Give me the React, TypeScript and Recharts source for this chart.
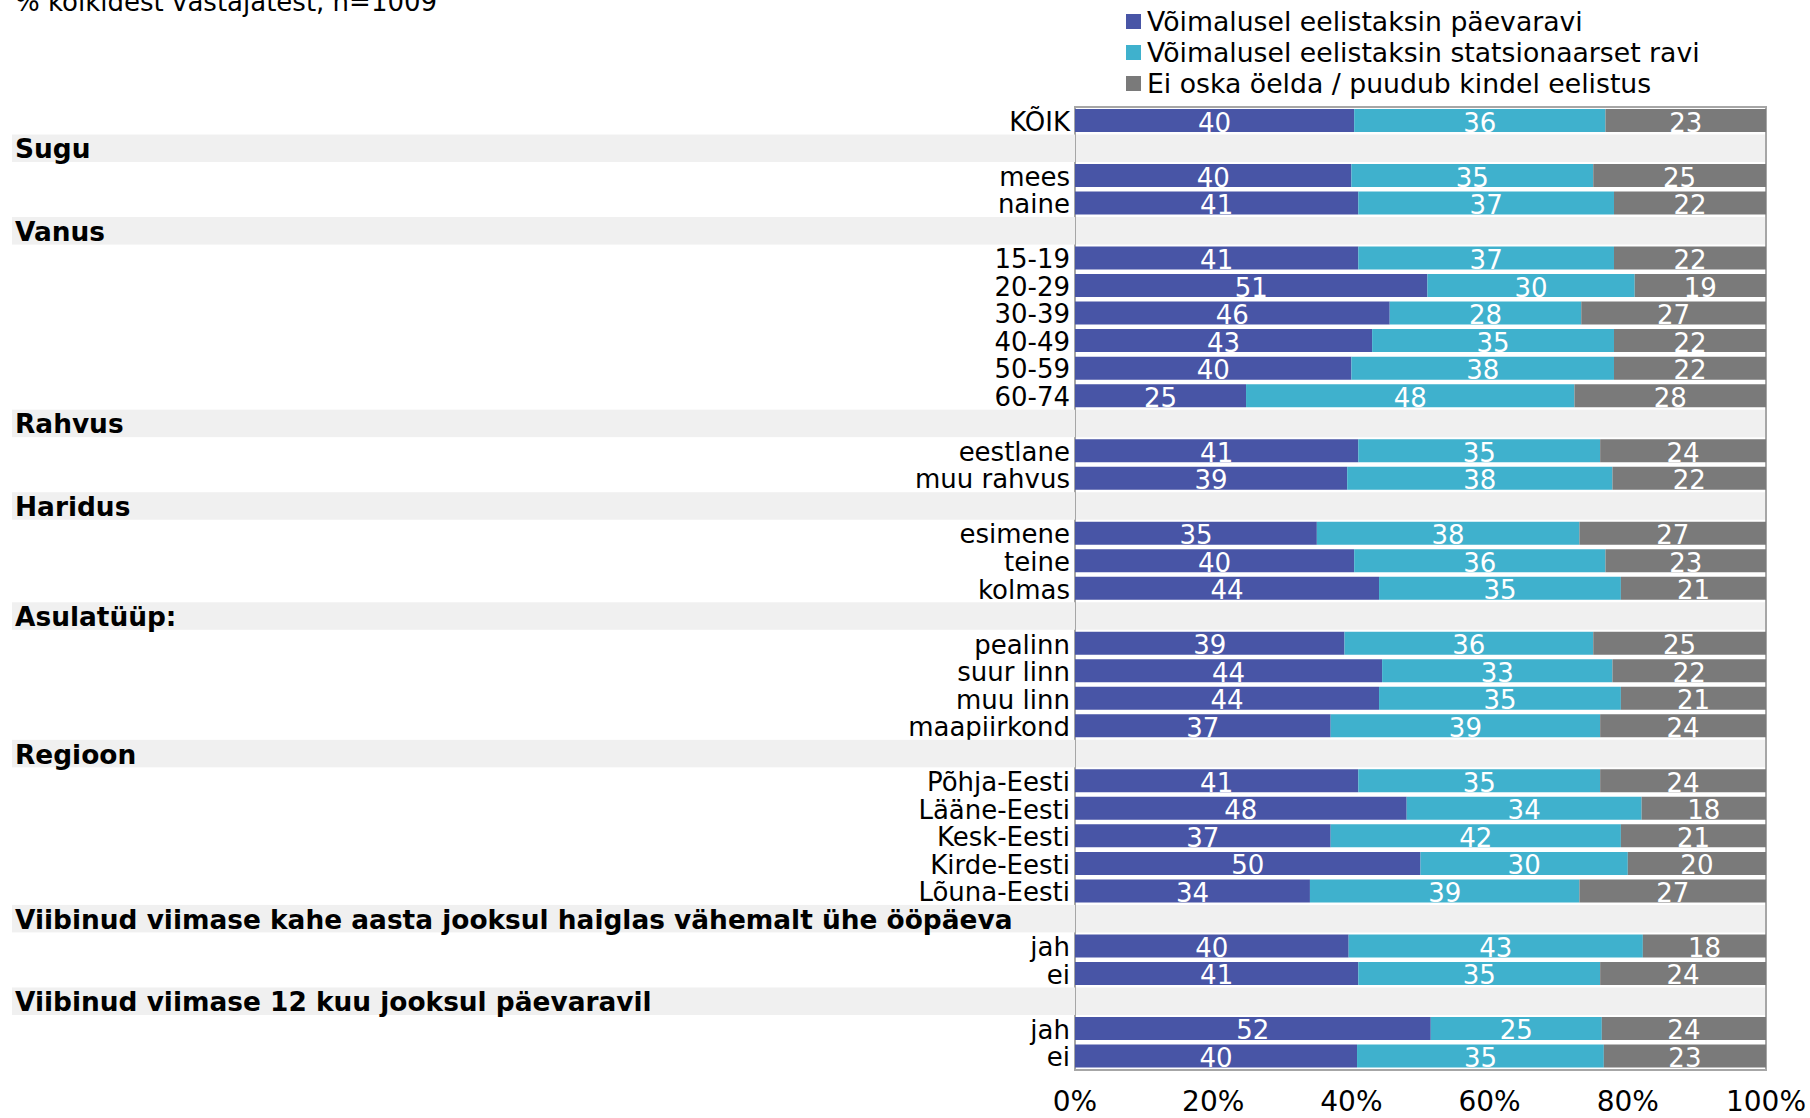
import React from "react";
import {
  BarChart,
  Bar,
  XAxis,
  YAxis,
  LabelList,
  ReferenceArea,
} from "recharts";

const FONT = "'DejaVu Sans', Verdana, sans-serif";

const rowLabels = [
  "KÕIK",
  "Sugu",
  "mees",
  "naine",
  "Vanus",
  "15-19",
  "20-29",
  "30-39",
  "40-49",
  "50-59",
  "60-74",
  "Rahvus",
  "eestlane",
  "muu rahvus",
  "Haridus",
  "esimene",
  "teine",
  "kolmas",
  "Asulatüüp:",
  "pealinn",
  "suur linn",
  "muu linn",
  "maapiirkond",
  "Regioon",
  "Põhja-Eesti",
  "Lääne-Eesti",
  "Kesk-Eesti",
  "Kirde-Eesti",
  "Lõuna-Eesti",
  "Viibinud viimase kahe aasta jooksul haiglas vähemalt ühe ööpäeva",
  "jah",
  "ei",
  "Viibinud viimase 12 kuu jooksul päevaravil",
  "jah",
  "ei",
];

const groupHeaders = [
  "Sugu",
  "Vanus",
  "Rahvus",
  "Haridus",
  "Asulatüüp:",
  "Regioon",
  "Viibinud viimase kahe aasta jooksul haiglas vähemalt ühe ööpäeva",
  "Viibinud viimase 12 kuu jooksul päevaravil",
];

// null = group header row (no bar)
const paevaravi = [
  40, null, 40, 41, null, 41, 51, 46, 43, 40, 25, null, 41, 39, null, 35, 40,
  44, null, 39, 44, 44, 37, null, 41, 48, 37, 50, 34, null, 40, 41, null, 52,
  40,
];
const statsionaarne = [
  36, null, 35, 37, null, 37, 30, 28, 35, 38, 48, null, 35, 38, null, 38, 36,
  35, null, 36, 33, 35, 39, null, 35, 34, 42, 30, 39, null, 43, 35, null, 25,
  35,
];
const eiOska = [
  23, null, 25, 22, null, 22, 19, 27, 22, 22, 28, null, 24, 22, null, 27, 23,
  21, null, 25, 22, 21, 24, null, 24, 18, 21, 20, 27, null, 18, 24, null, 24,
  23,
];

const xTicks = [0, 0.2, 0.4, 0.6, 0.8, 1];

const seriesKeys = ["a", "b", "c"];
const seriesNames = [
  "Võimalusel eelistaksin päevaravi",
  "Võimalusel eelistaksin statsionaarset ravi",
  "Ei oska öelda / puudub kindel eelistus",
];
const seriesColors = ["#4855a6", "#3fb1cd", "#7a7a7a"];

const data = rowLabels.map((label, i) => ({
  id: "r" + i,
  label,
  header: groupHeaders.includes(label),
  a: paevaravi[i],
  b: statsionaarne[i],
  c: eiOska[i],
}));

const W = 1810;
const H = 1118;
const X_AXIS_H = 48;
const Y_AXIS_W = 1075;
const margin = { top: 107, right: 44, bottom: 0, left: 0 };
const bandH = (H - margin.top - margin.bottom - X_AXIS_H) / data.length;

const CategoryTick = (props: any) => {
  const { x, y, payload } = props;
  const row = data.find((d) => d.id === payload.value);
  if (!row) return null;
  if (row.header) {
    return (
      <g>
        <rect x={12} y={y - bandH / 2} width={x - 12} height={bandH} fill="#f0f0f0" />
        <text x={15} y={y + 10} fontSize={26.4} fontWeight="bold" fill="#000" fontFamily={FONT}>
          {row.label}
        </text>
      </g>
    );
  }
  return (
    <text x={x - 5} y={y + 10} fontSize={26} textAnchor="end" fill="#000" fontFamily={FONT}>
      {row.label}
    </text>
  );
};

const PercentTick = (props: any) => {
  const { x, y, payload } = props;
  return (
    <text x={x} y={y + 41} fontSize={28} textAnchor="middle" fill="#000" fontFamily={FONT}>
      {Math.round(payload.value * 100) + "%"}
    </text>
  );
};

const ValueLabel = (props: any) => {
  const { x, y, width, height, value } = props;
  if (value === null || value === undefined) return null;
  return (
    <text
      x={x + width / 2}
      y={y + height - 0.5}
      fontSize={26}
      textAnchor="middle"
      fill="#fff"
      fontFamily={FONT}
    >
      {value}
    </text>
  );
};

function ChartLegend() {
  return (
    <div
      style={{
        position: "absolute",
        left: 1126,
        top: 6,
        fontFamily: FONT,
        fontSize: 26.7,
        color: "#000",
      }}
    >
      {seriesNames.map((name, i) => (
        <div
          key={name}
          style={{ display: "flex", alignItems: "center", height: 31, lineHeight: "31px", whiteSpace: "nowrap" }}
        >
          <span
            style={{ display: "inline-block", width: 15, height: 15, background: seriesColors[i], marginRight: 6 }}
          />
          <span>{name}</span>
        </div>
      ))}
    </div>
  );
}

export default function App() {
  return (
    <div
      style={{
        position: "absolute",
        left: 0,
        top: 0,
        width: W,
        height: H,
        overflow: "hidden",
        background: "#fff",
      }}
    >
      <BarChart
        width={W}
        height={H}
        data={data}
        layout="vertical"
        stackOffset="expand"
        margin={margin}
        barSize={23}
        style={{ fontFamily: FONT }}
      >
        {data
          .filter((d) => d.header)
          .map((d) => (
            <ReferenceArea
              key={d.id}
              y1={d.id}
              y2={d.id}
              fill="#f0f0f0"
              fillOpacity={1}
              stroke="none"
              ifOverflow="visible"
            />
          ))}
        <XAxis
          type="number"
          domain={[0, 1]}
          ticks={xTicks}
          axisLine={false}
          tickLine={false}
          tickSize={0}
          tickMargin={0}
          height={X_AXIS_H}
          tick={<PercentTick />}
          interval={0}
        />
        <YAxis
          type="category"
          dataKey="id"
          width={Y_AXIS_W}
          axisLine={false}
          tickLine={false}
          tickSize={0}
          tickMargin={0}
          interval={0}
          tick={<CategoryTick />}
        />
        {seriesKeys.map((key, i) => (
          <Bar
            key={key}
            dataKey={key}
            name={seriesNames[i]}
            stackId="s"
            fill={seriesColors[i]}
            isAnimationActive={false}
          >
            <LabelList dataKey={key} content={<ValueLabel />} />
          </Bar>
        ))}
        <ReferenceArea x1={0} x2={1} fill="none" stroke="#a6a6a6" strokeWidth={2} ifOverflow="visible" />
      </BarChart>
      <div
        style={{
          position: "absolute",
          left: 15,
          top: -13,
          fontFamily: FONT,
          fontSize: 26,
          whiteSpace: "nowrap",
          color: "#000",
        }}
      >
        % kõikidest vastajatest, n=1009
      </div>
      <ChartLegend />
    </div>
  );
}
